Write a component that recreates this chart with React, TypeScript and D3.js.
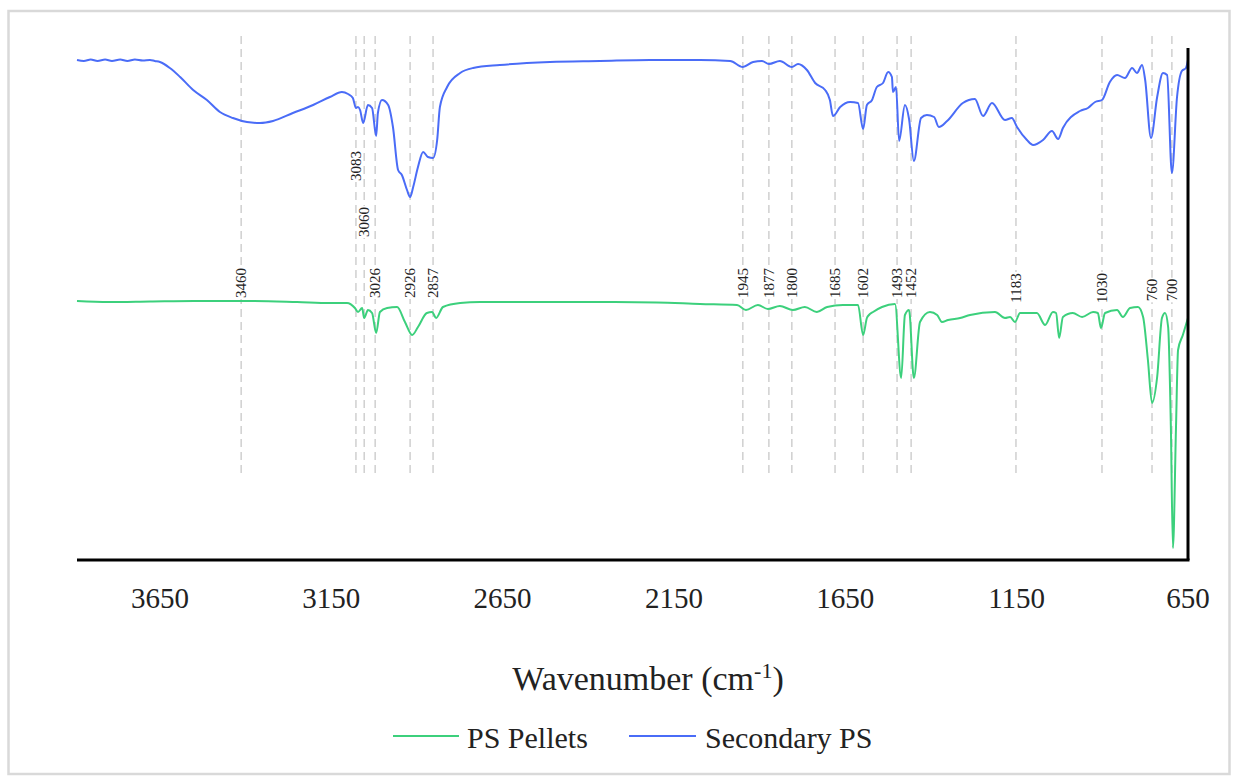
import React from "react";
import * as d3 from "d3";

// ---- Data ----
const tickValues = [3650, 3150, 2650, 2150, 1650, 1150, 650];
const xDomain = [3892, 650];

// Secondary PS (upper trace): wavenumber, transmittance (a.u.)
const secondaryWN = [3892, 3872, 3852, 3832, 3810, 3790, 3766, 3745, 3723, 3700, 3679, 3665, 3650, 3621, 3591, 3553, 3513, 3475, 3437, 3396, 3358, 3320, 3262, 3203, 3154, 3119, 3101, 3087, 3078, 3072, 3066, 3057, 3043, 3031, 3019, 3014, 3002, 2984, 2970, 2955, 2944, 2929, 2920, 2911, 2897, 2882, 2868, 2853, 2841, 2833, 2812, 2774, 2736, 2658, 2512, 2366, 2220, 2074, 1986, 1949, 1919, 1893, 1873, 1841, 1806, 1788, 1762, 1738, 1709, 1695, 1686, 1665, 1636, 1613, 1598, 1587, 1572, 1558, 1540, 1525, 1514, 1511, 1502, 1493, 1476, 1464, 1450, 1429, 1412, 1391, 1377, 1353, 1307, 1272, 1248, 1222, 1184, 1164, 1149, 1120, 1102, 1073, 1047, 1029, 1015, 965, 942, 921, 901, 878, 857, 834, 813, 799, 784, 775, 758, 740, 723, 711, 697, 682, 668, 656, 650];
const secondaryT = [100, 99.8, 100.1, 99.8, 100.1, 99.8, 100.1, 99.8, 100.1, 99.9, 100, 99.8, 99.6, 98.4, 96.6, 94, 92, 89.6, 88.4, 87.6, 87.4, 87.8, 89.4, 91, 92.6, 93.6, 93.2, 92.4, 90.4, 90.6, 90, 87.4, 91, 90.4, 84.8, 89.4, 92, 91, 86.6, 78, 77, 74, 72.6, 74.6, 78.6, 81.6, 80.6, 80.4, 84, 90.6, 94.6, 97.4, 98.4, 99, 99.6, 99.8, 100, 100, 99.8, 98.6, 99.6, 99.8, 99.2, 99.8, 98.6, 99.2, 98, 95.4, 94, 92, 88.8, 90.6, 91.6, 91.4, 86.2, 91, 92, 94.6, 95.4, 97.6, 96.6, 93.6, 94.6, 83.8, 91, 88.2, 79.8, 88.4, 89, 88.6, 86.6, 87.8, 91.4, 92.2, 88.8, 91.4, 88, 88.4, 86.6, 84, 83, 84, 85.8, 84.2, 86.4, 89.8, 90.4, 91.6, 92, 95.6, 97, 96.4, 98.4, 97.4, 99, 96, 84.4, 92.6, 97.4, 97, 77.4, 92.6, 97.8, 98.4, 100];

// PS Pellets (lower trace)
const pelletsWN = [3892, 3800, 3679, 3550, 3387, 3250, 3154, 3104, 3081, 3072, 3060, 3054, 3043, 3031, 3019, 3008, 2987, 2958, 2935, 2914, 2897, 2871, 2856, 2844, 2824, 2774, 2716, 2500, 2366, 2200, 2074, 1966, 1940, 1905, 1876, 1841, 1803, 1768, 1733, 1703, 1657, 1613, 1598, 1587, 1581, 1569, 1543, 1505, 1487, 1476, 1464, 1450, 1432, 1403, 1382, 1368, 1350, 1315, 1286, 1213, 1184, 1169, 1155, 1140, 1091, 1067, 1044, 1035, 1026, 1015, 986, 959, 927, 913, 904, 892, 857, 840, 819, 796, 781, 767, 755, 740, 726, 717, 708, 700, 694, 685, 679, 665, 650];
const pelletsT = [51.8, 51.6, 51.7, 51.8, 51.8, 51.6, 51.4, 51.4, 50.4, 49.6, 50.4, 48.4, 50, 49.4, 45.4, 49.6, 50.4, 50.6, 47.6, 45, 46.6, 49.4, 49.6, 48.4, 50.6, 51.4, 51.6, 51.6, 51.6, 51.5, 51.2, 51, 50, 51, 50.2, 50.8, 50, 50.6, 49.6, 50.6, 51, 51, 45, 48.4, 49, 49.6, 50.6, 51.2, 36.4, 49, 50, 36.4, 47.6, 49.6, 49, 47.6, 48, 48.4, 49, 49.6, 48.4, 48.6, 47.6, 49.4, 49.4, 47, 49.6, 49.4, 44.4, 48.6, 49.4, 48.6, 49.6, 49.4, 46.4, 49.4, 50, 48.6, 50.4, 50.6, 48.6, 40, 31.4, 36.6, 48.4, 49.4, 46.6, 26.6, 2.4, 26.6, 42, 45, 48.4];

// Peak annotations
const peakLabels = ["3460", "3083", "3060", "3026", "2926", "2857", "1945", "1877", "1800", "1685", "1602", "1493", "1452", "1183", "1030", "760", "700"];
const peakPositions = [3413, 3078, 3054, 3022, 2920, 2853, 1949, 1873, 1806, 1680, 1598, 1499, 1458, 1152, 901, 755, 697];
const peakLabelLevels = [55.4, 78.8, 67.6, 55.4, 55.4, 55.4, 55.4, 55.4, 55.4, 55.4, 55.4, 55.4, 55.4, 54.4, 54.4, 54, 54];
const peakLineTop = 104.8;
const peakLineBottom = 17;

const seriesNames = ["PS Pellets", "Secondary PS"];
const seriesColors = ["#3CD07C", "#4A6CF7"];

const W = 1238;
const H = 781;
const SERIF = "Liberation Serif";

export default function App() {
  const x = d3.scaleLinear().domain(xDomain).range([77, 1188]);
  const y = d3.scaleLinear().domain([0, 102.4]).range([560, 48]);

  const line = d3
    .line<[number, number]>()
    .x((d) => x(d[0]))
    .y((d) => y(d[1]))
    .curve(d3.curveMonotoneX);

  const secData: [number, number][] = secondaryWN.map((w, i) => [w, secondaryT[i]]);
  const pelData: [number, number][] = pelletsWN.map((w, i) => [w, pelletsT[i]]);
  const ts = { fontFamily: SERIF };

  return (
    <svg
      width={W}
      height={H}
      style={{ position: "absolute", left: 0, top: 0, background: "#fff" }}
    >
      <rect x={0} y={0} width={W} height={H} fill="#fff" />
      <rect x={8.5} y={11} width={1221} height={763} fill="none" stroke="#d9d9d9" strokeWidth={2.5} />

      {/* peak guide lines */}
      {peakPositions.map((p, i) => (
        <line
          key={"g" + i}
          x1={x(p)}
          x2={x(p)}
          y1={y(peakLineTop)}
          y2={y(peakLineBottom)}
          stroke="#c8c8c8"
          strokeWidth={1.3}
          strokeDasharray="8,5"
        />
      ))}

      {/* spectra */}
      <path d={line(pelData) || ""} fill="none" stroke={seriesColors[0]} strokeWidth={2} />
      <path d={line(secData) || ""} fill="none" stroke={seriesColors[1]} strokeWidth={2} />

      {/* peak labels */}
      {peakPositions.map((p, i) => {
        const cx = x(p);
        const cy = y(peakLabelLevels[i]);
        const len = peakLabels[i].length * 7.5;
        return (
          <g key={"l" + i} transform={`translate(${cx},${cy}) rotate(-90)`}>
            <rect x={-len / 2 - 1} y={-7} width={len + 2} height={14} fill="#fff" />
            <text x={0} y={5} textAnchor="middle" fontSize={15} fill="#222" style={ts}>
              {peakLabels[i]}
            </text>
          </g>
        );
      })}

      {/* axes */}
      <line x1={x(xDomain[0])} x2={x(xDomain[1]) + 1.5} y1={560} y2={560} stroke="#000" strokeWidth={3} />
      <line x1={x(xDomain[1])} x2={x(xDomain[1])} y1={y(102.4)} y2={560} stroke="#000" strokeWidth={3} />

      {tickValues.map((t) => (
        <text key={t} x={x(t)} y={608} textAnchor="middle" fontSize={29} fill="#222" style={ts}>
          {t}
        </text>
      ))}

      <text x={648} y={690} textAnchor="middle" fontSize={34} fill="#222" style={ts}>
        Wavenumber (cm
        <tspan dy={-12} fontSize={22}>-1</tspan>
        <tspan dy={12}>)</tspan>
      </text>

      {/* legend */}
      <line x1={393} x2={459} y1={736} y2={736} stroke={seriesColors[0]} strokeWidth={2} />
      <text x={467} y={748} fontSize={30} fill="#222" style={ts}>{seriesNames[0]}</text>
      <line x1={629} x2={696} y1={736} y2={736} stroke={seriesColors[1]} strokeWidth={2} />
      <text x={705} y={748} fontSize={30} fill="#222" style={ts}>{seriesNames[1]}</text>
    </svg>
  );
}
